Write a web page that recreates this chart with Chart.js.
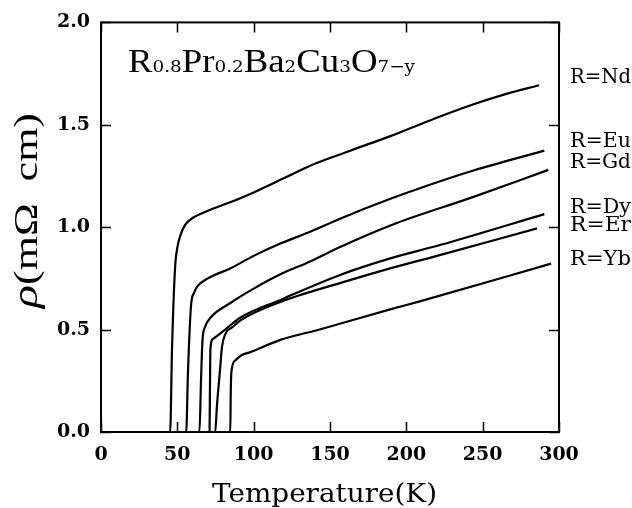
<!DOCTYPE html>
<html>
<head>
<meta charset="utf-8">
<script src="https://cdn.jsdelivr.net/npm/chart.js@4.4.0/dist/chart.umd.min.js"></script>
<style>
  html, body { margin: 0; padding: 0; background: #fff; }
  #wrap { width: 632px; height: 508px; }
</style>
</head>
<body>
<div id="wrap"><canvas id="rhoChart" width="632" height="508"></canvas></div>
<script>
// Resistivity vs temperature, R0.8Pr0.2Ba2Cu3O7-y
const xTicks = [0, 50, 100, 150, 200, 250, 300];
const yTicks = [0.0, 0.5, 1.0, 1.5, 2.0];

const seriesNames = ["R=Nd", "R=Eu", "R=Gd", "R=Dy", "R=Er", "R=Yb"];

const ndT   = [0, 45.3, 46.5, 48.5, 50, 52, 55, 60, 70, 85, 100, 120, 137, 160, 190, 215, 244, 265, 287];
const ndRho = [0, 0, 0.4, 0.8, 0.9, 0.96, 1.01, 1.045, 1.08, 1.123, 1.17, 1.24, 1.3, 1.365, 1.446, 1.52, 1.6, 1.65, 1.693];

const euT   = [0, 55.8, 57, 59, 61, 63, 70, 85, 100, 117.5, 137, 157, 190, 214, 244, 290.4];
const euRho = [0, 0, 0.3, 0.62, 0.68, 0.71, 0.75, 0.8, 0.86, 0.92, 0.978, 1.043, 1.14, 1.204, 1.277, 1.374];

const gdT   = [0, 64.5, 65.5, 66.5, 68, 72, 85, 100, 117.5, 137, 157, 190, 244, 293];
const gdRho = [0, 0, 0.25, 0.45, 0.51, 0.56, 0.631, 0.7, 0.77, 0.833, 0.905, 1.01, 1.148, 1.28];

const dyT   = [0, 71.1, 71.6, 73.3, 80.3, 91.2, 117.5, 157, 190, 222.5, 290.4];
const dyRho = [0, 0, 0.397, 0.454, 0.494, 0.558, 0.645, 0.768, 0.849, 0.914, 1.064];

const erT   = [0, 74.8, 75.9, 78.1, 79.2, 81.4, 85.8, 92.4, 117.5, 157, 190, 222.5, 285.6];
const erRho = [0, 0, 0.123, 0.316, 0.413, 0.478, 0.51, 0.55, 0.635, 0.728, 0.8, 0.865, 0.994];

const ybT   = [0, 84.7, 85, 85.5, 88, 92, 97.8, 117.5, 143.8, 190, 209.4, 294.8];
const ybRho = [0, 0, 0.2, 0.3, 0.35, 0.375, 0.39, 0.45, 0.502, 0.6, 0.639, 0.822];

const allT = [ndT, euT, gdT, dyT, erT, ybT];
const allRho = [ndRho, euRho, gdRho, dyRho, erRho, ybRho];

const SLAB = "'DejaVu Serif', serif";

function toPoints(ts, rs) {
  return ts.map((t, i) => ({ x: t, y: rs[i] }));
}

const datasets = seriesNames.map((name, i) => ({
  label: name,
  data: toPoints(allT[i], allRho[i]),
  borderColor: "#000",
  borderWidth: 2.2,
  pointRadius: 0,
  fill: false,
  cubicInterpolationMode: "monotone",
}));

// draw text pieces, stretched to a given width
function drawFitted(ctx, pieces, x, y, width) {
  let total = 0;
  pieces.forEach(p => { ctx.font = p.font; total += ctx.measureText(p.text).width; });
  ctx.save();
  ctx.translate(x, y);
  ctx.scale(width / total, 1);
  let cx = 0;
  pieces.forEach(p => {
    ctx.font = p.font;
    ctx.fillText(p.text, cx, p.dy || 0);
    cx += ctx.measureText(p.text).width;
  });
  ctx.restore();
}

const decor = {
  id: "decor",
  afterDraw(chart) {
    const ctx = chart.ctx;
    const a = chart.chartArea;
    const xs = chart.scales.x, ys = chart.scales.y;
    ctx.save();
    ctx.strokeStyle = "#000";
    ctx.fillStyle = "#000";
    ctx.lineWidth = 2;
    ctx.strokeRect(a.left, a.top, a.right - a.left, a.bottom - a.top);

    // inward ticks on all four sides
    ctx.lineWidth = 1.5;
    ctx.beginPath();
    xTicks.forEach(v => {
      const px = Math.round(xs.getPixelForValue(v)) + 0.5;
      ctx.moveTo(px, a.bottom); ctx.lineTo(px, a.bottom - 10);
      ctx.moveTo(px, a.top); ctx.lineTo(px, a.top + 10);
    });
    yTicks.forEach(v => {
      const py = Math.round(ys.getPixelForValue(v)) + 0.5;
      ctx.moveTo(a.left, py); ctx.lineTo(a.left + 10, py);
      ctx.moveTo(a.right, py); ctx.lineTo(a.right - 10, py);
    });
    ctx.stroke();

    ctx.textBaseline = "alphabetic";
    ctx.textAlign = "left";

    // formula label
    const big = "34px 'Liberation Serif'";
    const sub = "17px " + SLAB;
    drawFitted(ctx, [
      { text: "R", font: big }, { text: "0.8", font: sub },
      { text: "Pr", font: big }, { text: "0.2", font: sub },
      { text: "Ba", font: big }, { text: "2", font: sub },
      { text: "Cu", font: big }, { text: "3", font: sub },
      { text: "O", font: big }, { text: "7\u2212y", font: sub },
    ], 128, 72, 287);

    // series names at right
    const nameBase = [83, 147, 168, 213, 231, 265];
    seriesNames.forEach((n, i) => drawFitted(ctx, [{ text: n, font: "20px " + SLAB }], 570, nameBase[i], 61));

    // x title
    drawFitted(ctx, [{ text: "Temperature(K)", font: "26px " + SLAB }], 212, 502, 225);

    // y title
    ctx.save();
    ctx.translate(37, 308);
    ctx.rotate(-Math.PI / 2);
    drawFitted(ctx, [
      { text: "\u03c1", font: "italic 36px 'Liberation Serif'" },
      { text: "(m\u03a9  cm)", font: "33px 'Liberation Serif'" },
    ], 0, 0, 195);
    ctx.restore();

    ctx.restore();
  },
};

const ctxRho = document.getElementById("rhoChart").getContext("2d");
new Chart(ctxRho, {
  type: "line",
  data: { datasets },
  options: {
    responsive: false,
    animation: false,
    devicePixelRatio: 1,
    layout: { padding: { left: 0, right: 73, top: 19, bottom: 0 } },
    plugins: { legend: { display: false }, tooltip: { enabled: false } },
    scales: {
      x: {
        type: "linear",
        min: 0,
        max: 300,
        afterFit: s => { s.height = 76; },
        afterBuildTicks: s => { s.ticks = xTicks.map(v => ({ value: v })); },
        grid: { display: false, drawTicks: false },
        border: { display: false },
        ticks: { color: "#000", padding: 12, maxRotation: 0, font: { family: SLAB, size: 19, weight: "bold" } },
      },
      y: {
        type: "linear",
        min: 0,
        max: 2,
        afterFit: s => { s.width = 101; },
        afterBuildTicks: s => { s.ticks = yTicks.map(v => ({ value: v })); },
        grid: { display: false, drawTicks: false },
        border: { display: false },
        ticks: {
          color: "#000",
          padding: 11,
          callback: v => v.toFixed(1),
          font: { family: SLAB, size: 19, weight: "bold" },
        },
      },
    },
  },
  plugins: [decor],
});
</script>
</body>
</html>
